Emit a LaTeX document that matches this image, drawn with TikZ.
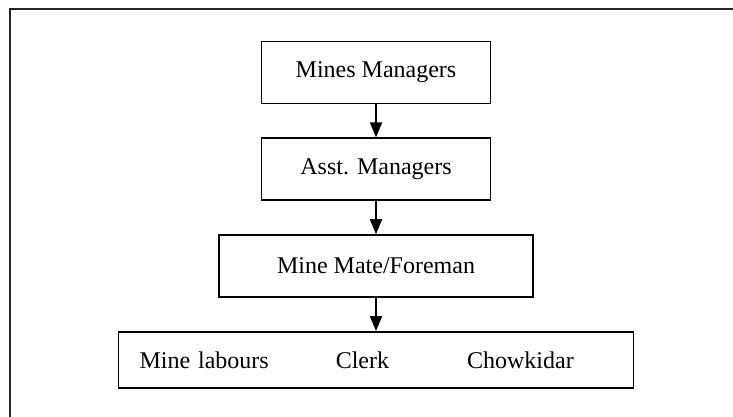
\documentclass[tikz,border=0pt]{standalone}
\usepackage{fontspec}
\setmainfont{Liberation Serif}
\usetikzlibrary{arrows.meta, positioning}
\tikzset{
  post/.style={rectangle, draw=black, line width=0.9pt, fill=white,
               minimum width=#1, minimum height=31pt, inner sep=0pt,
               align=center, font=\fontsize{12}{14}\selectfont},
  post/.default=114.5pt,
  staff/.style={rectangle, draw=black, line width=0.9pt, fill=white,
                text width=257.5pt, minimum height=28pt, inner xsep=0pt,
                align=left, font=\fontsize{12}{14}\selectfont},
  arrow/.style={-{Triangle[length=7.5pt, width=6pt]}, line width=0.9pt},
}
\begin{document}
\begin{tikzpicture}[node distance=16.5pt]
  \useasboundingbox (0,0) rectangle (366.5pt,-208.5pt);

  %% -- outer frame (only top and left edges show) --
  \draw[line width=1pt, black!85] (366.5pt,-4.5pt) -- (4.75pt,-4.5pt) -- (4.75pt,-208.5pt);

  %% -- chain of posts --
  \node[post]            (mgr)   at (188pt,-36.25pt) {Mines Managers};
  \node[post, below=of mgr]      (asst)  {Asst. Managers};
  \node[post=157pt, below=of asst] (mate) {Mine Mate/Foreman};
  \node[staff, below=of mate]    (staff) {\hspace*{10.5pt}Mine labours\hspace{33.5pt}Clerk\hspace{39pt}Chowkidar};

  %% -- arrows --
  \foreach \a/\b in {mgr/asst, asst/mate, mate/staff}{
    \draw[arrow] (\a) -- (\b);
  }
\end{tikzpicture}
\end{document}
